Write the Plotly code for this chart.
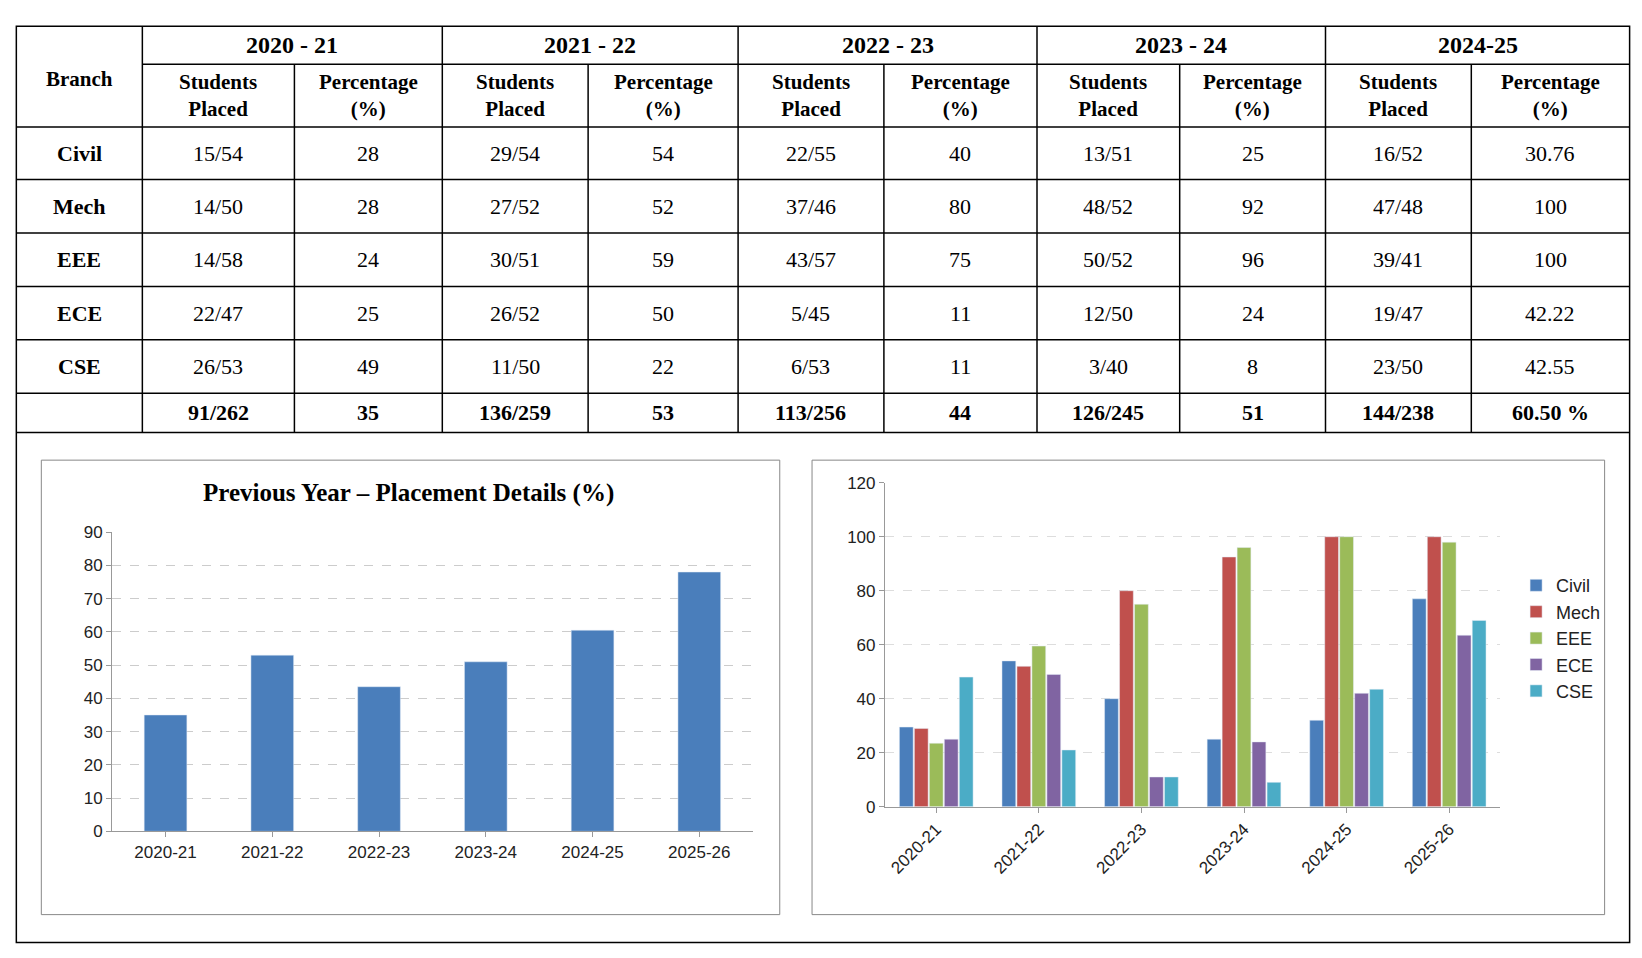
import plotly.graph_objects as go

W, H = 1642, 958
SX, SY = 1.0415, 1.049  # reference pixel coords -> page pixels

branches = ["Civil", "Mech", "EEE", "ECE", "CSE"]
table_years = ["2020 - 21", "2021 - 22", "2022 - 23", "2023 - 24", "2024-25"]
placed = [
    ["15/54", "14/50", "14/58", "22/47", "26/53"],
    ["29/54", "27/52", "30/51", "26/52", "11/50"],
    ["22/55", "37/46", "43/57", "5/45", "6/53"],
    ["13/51", "48/52", "50/52", "12/50", "3/40"],
    ["16/52", "47/48", "39/41", "19/47", "23/50"],
]
percent = [
    ["28", "28", "24", "25", "49"],
    ["54", "52", "59", "50", "22"],
    ["40", "80", "75", "11", "11"],
    ["25", "92", "96", "24", "8"],
    ["30.76", "100", "100", "42.22", "42.55"],
]
total_placed = ["91/262", "136/259", "113/256", "126/245", "144/238"]
total_pct = ["35", "53", "44", "51", "60.50 %"]

chart_years = ["2020-21", "2021-22", "2022-23", "2023-24", "2024-25", "2025-26"]
overall = [35, 53, 43.5, 51, 60.5, 78]
branch_pct = {
    "Civil": [29.5, 54, 40, 25, 32, 77],
    "Mech": [29, 52, 80, 92.5, 100, 100],
    "EEE": [23.5, 59.5, 75, 96, 100, 98],
    "ECE": [25, 49, 11, 24, 42, 63.5],
    "CSE": [48, 21, 11, 9, 43.5, 69],
}
colors = ["#4a7ebb", "#c0504d", "#9bbb59", "#8064a2", "#4bacc6"]


def px(x):
    return x * SX / W


def py(y):
    return 1 - y * SY / H


shapes, ann = [], []


def line(x0, y0, x1, y1, w=1.5, c="black"):
    shapes.append(dict(type="line", xref="paper", yref="paper", x0=px(x0), y0=py(y0),
                       x1=px(x1), y1=py(y1), line=dict(color=c, width=w)))


def box(x0, y0, x1, y1, w=1.2, c="black"):
    shapes.append(dict(type="rect", xref="paper", yref="paper", x0=px(x0), y0=py(y0),
                       x1=px(x1), y1=py(y1), line=dict(color=c, width=w)))


def text(x, y, t, size=22, bold=False):
    ann.append(dict(xref="paper", yref="paper", x=px(x), y=py(y), text=f"<b>{t}</b>" if bold else t,
                    showarrow=False, xanchor="center", yanchor="middle",
                    font=dict(family="Liberation Serif", size=size, color="black")))


# table grid
cols = [8, 129, 275, 417, 557, 701, 841, 988, 1125, 1265, 1405, 1557]
rows = [9, 46, 107, 158, 210, 262, 314, 366, 404]
box(8, 9, 1557, 900, w=1.5)
for r in rows[2:]:
    line(cols[0], r, cols[-1], r)
line(cols[1], rows[1], cols[-1], rows[1])
for i, c in enumerate(cols[1:-1], start=1):
    top = rows[0] if i % 2 == 1 else rows[1]
    line(c, top, c, rows[-1])

text((cols[0] + cols[1]) / 2, 60, "Branch", 21, True)
for j, yr in enumerate(table_years):
    a, b, c = cols[1 + 2 * j], cols[2 + 2 * j], cols[3 + 2 * j]
    text((a + c) / 2, 27, yr, 24, True)
    text((a + b) / 2, 76, "Students<br>Placed", 21, True)
    text((b + c) / 2, 76, "Percentage<br>(%)", 21, True)
    for i in range(5):
        yc = (rows[2 + i] + rows[3 + i]) / 2
        text((a + b) / 2, yc, placed[j][i])
        text((b + c) / 2, yc, percent[j][i])
    yc = (rows[7] + rows[8]) / 2
    text((a + b) / 2, yc, total_placed[j], 22, True)
    text((b + c) / 2, yc, total_pct[j], 22, True)
for i, br in enumerate(branches):
    text((cols[0] + cols[1]) / 2, (rows[2 + i] + rows[3 + i]) / 2, br, 22, True)

# chart panels
box(32, 431, 741, 873, w=1, c="#888")
box(772, 431, 1533, 873, w=1, c="#888")
text(385, 463, "Previous Year – Placement Details (%)", 25, True)

fig = go.Figure()
fig.add_trace(go.Bar(x=chart_years, y=overall, marker_color=colors[0], showlegend=False,
                     width=0.4, xaxis="x", yaxis="y"))
for k, (name, vals) in enumerate(branch_pct.items()):
    fig.add_trace(go.Bar(x=chart_years, y=vals, name=name, marker_color=colors[k],
                         xaxis="x2", yaxis="y2"))

tickfont = dict(family="Liberation Sans", size=17, color="#222")
fig.update_layout(
    width=W, height=H, margin=dict(l=0, r=0, t=0, b=0),
    paper_bgcolor="white", plot_bgcolor="white",
    shapes=shapes, annotations=ann, barmode="group", bargap=0.27, bargroupgap=0.08,
    xaxis=dict(domain=[px(100), px(715)], anchor="y", tickfont=tickfont, showline=True,
               linecolor="#999", ticks="outside", tickcolor="#999"),
    yaxis=dict(domain=[py(792), py(501)], anchor="x", range=[0, 90], dtick=10,
               tickfont=tickfont, showgrid=True, gridcolor="#ccc", griddash="dash",
               showline=True, linecolor="#999", ticks="outside", tickcolor="#999",
               zeroline=False),
    xaxis2=dict(domain=[px(842), px(1433)], anchor="y2", tickfont=tickfont, tickangle=-45,
                showline=True, linecolor="#999", ticks="outside", tickcolor="#999"),
    yaxis2=dict(domain=[py(768), py(453)], anchor="x2", range=[0, 120], dtick=20,
                tickfont=tickfont, showgrid=True, gridcolor="#ddd", griddash="dash",
                showline=True, linecolor="#999", ticks="outside", tickcolor="#999",
                zeroline=False),
    legend=dict(x=px(1448), y=py(535), xanchor="left", yanchor="top", bgcolor="rgba(0,0,0,0)",
                font=dict(family="Liberation Sans", size=18, color="#222"),
                tracegroupgap=17, itemwidth=30),
)
fig.write_html("out.html")
